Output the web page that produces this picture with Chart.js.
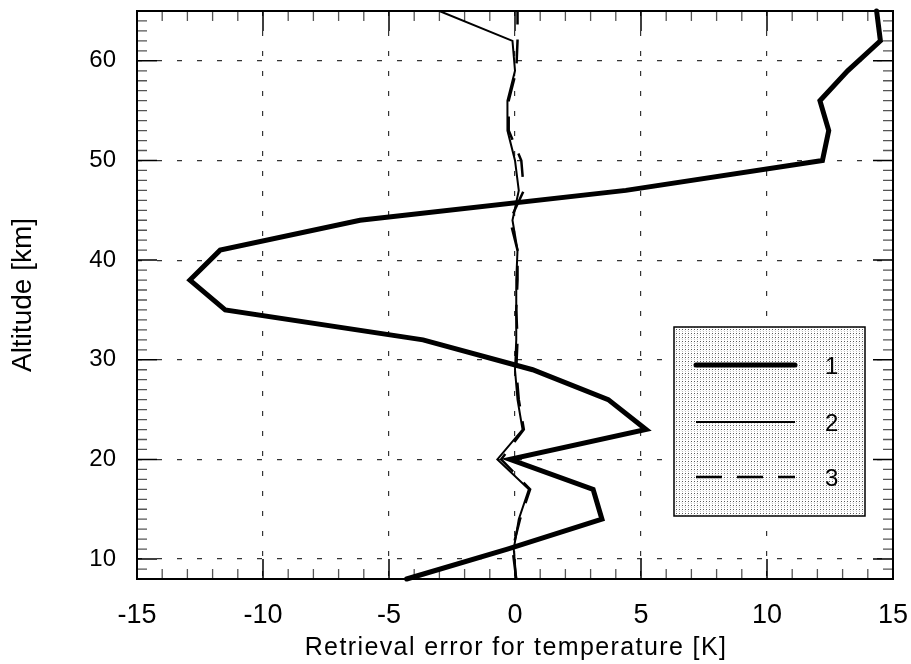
<!DOCTYPE html>
<html>
<head>
<meta charset="utf-8">
<script src="https://cdn.jsdelivr.net/npm/chart.js@4/dist/chart.umd.min.js"></script>
<style>
html,body{margin:0;padding:0;background:#fff;}
canvas{display:block;}
</style>
</head>
<body>
<canvas id="c" width="911" height="664"></canvas>
<script>
// ---- data ----
const altitudes = [8, 11, 14, 17, 20, 23, 26, 29, 32, 35, 38, 41, 44, 47, 50, 53, 56, 59, 62, 65];
const error1 = [-4.3, -0.3, 3.45, 3.1, -0.2, 5.2, 3.7, 0.7, -3.65, -11.5, -12.9, -11.7, -6.15, 4.4, 12.2, 12.45, 12.1, 13.2, 14.5, 14.35];
const error2 = [0.05, -0.05, 0.15, 0.55, -0.7, 0.3, 0.1, 0.0, 0.05, 0.05, 0.05, 0.1, -0.1, 0.15, 0.0, -0.3, -0.3, 0.0, -0.1, -3.0];
const error3 = [0.05, -0.1, 0.2, 0.6, -0.55, 0.35, 0.15, 0.05, 0.1, 0.05, 0.1, 0.1, -0.2, 0.35, 0.25, -0.25, -0.25, 0.05, 0.1, 0.1];
const seriesNames = ['1', '2', '3'];
const xTicks = [-15, -10, -5, 0, 5, 10, 15];
const yTicks = [10, 20, 30, 40, 50, 60];
const xTitle = 'Retrieval error for temperature [K]';
const yTitle = 'Altitude [km]';

const FONT = "'Liberation Sans', Arial, sans-serif";

function pts(vals){ return altitudes.map((a,i)=>({x: vals[i], y: a})); }

// stipple pattern for legend box
function makePattern(ctx){
  const pc = document.createElement('canvas');
  pc.width = 3; pc.height = 4;
  const p = pc.getContext('2d');
  p.fillStyle = '#ffffff'; p.fillRect(0,0,3,4);
  p.fillStyle = '#5a5a5a'; p.fillRect(1,1,1,1);
  p.fillStyle = '#c4c4c4'; p.fillRect(1,3,1,1);
  p.fillStyle = '#ececec'; p.fillRect(0,2,1,1);
  return ctx.createPattern(pc, 'repeat');
}

function noPad(s){ s.paddingTop = 0; s.paddingBottom = 0; s.paddingLeft = 0; s.paddingRight = 0; }

const framePlugin = {
  id: 'frame',
  beforeDatasetsDraw(chart){
    const {ctx, chartArea: a, scales: {x, y}} = chart;
    ctx.save();
    ctx.lineCap = 'butt';
    // minor / major inward ticks on all four sides
    for (let v = Math.ceil(x.min); v <= x.max; v++){
      const px = x.getPixelForValue(v);
      const major = v % 5 === 0;
      const len = major ? 20 : 10;
      ctx.strokeStyle = major ? '#000' : '#555';
      ctx.lineWidth = major ? 1.5 : 1.3;
      ctx.beginPath();
      ctx.moveTo(px, a.bottom); ctx.lineTo(px, a.bottom - len);
      ctx.moveTo(px, a.top); ctx.lineTo(px, a.top + len);
      ctx.stroke();
    }
    for (let v = Math.ceil(y.min); v <= y.max; v++){
      const py = y.getPixelForValue(v);
      const major = v % 10 === 0;
      const len = major ? 20 : 10;
      ctx.strokeStyle = major ? '#000' : '#555';
      ctx.lineWidth = major ? 1.5 : 1.3;
      ctx.beginPath();
      ctx.moveTo(a.left, py); ctx.lineTo(a.left + len, py);
      ctx.moveTo(a.right, py); ctx.lineTo(a.right - len, py);
      ctx.stroke();
    }
    ctx.restore();
  },
  afterDatasetsDraw(chart){
    const {ctx, chartArea: a} = chart;
    ctx.save();
    // frame
    ctx.strokeStyle = '#000';
    ctx.lineWidth = 2;
    ctx.strokeRect(a.left, a.top, a.right - a.left, a.bottom - a.top);

    // legend box
    const bx = 674, by = 327, bw = 191, bh = 189;
    ctx.fillStyle = makePattern(ctx);
    ctx.fillRect(bx, by, bw, bh);
    ctx.strokeStyle = '#000';
    ctx.lineWidth = 1.5;
    ctx.strokeRect(bx, by, bw, bh);
    const rows = [365, 422, 477];
    chart.data.datasets.forEach((ds, i) => {
      ctx.save();
      ctx.strokeStyle = ds.borderColor;
      ctx.lineWidth = ds.borderWidth;
      ctx.lineCap = i === 0 ? 'round' : 'butt';
      ctx.setLineDash(i === 2 ? [26, 15] : []);
      ctx.beginPath();
      ctx.moveTo(696, rows[i]); ctx.lineTo(795, rows[i]);
      ctx.stroke();
      ctx.restore();
      ctx.fillStyle = '#000';
      ctx.font = '24px ' + FONT;
      ctx.textAlign = 'left';
      ctx.textBaseline = 'middle';
      ctx.fillText(ds.label, 825, rows[i] + 2);
    });

    // x-axis title (spaced lettering)
    ctx.fillStyle = '#000';
    ctx.font = '25px ' + FONT;
    ctx.textAlign = 'center';
    ctx.textBaseline = 'alphabetic';
    if ('letterSpacing' in ctx) ctx.letterSpacing = '1.4px';
    ctx.fillText(xTitle, (a.left + a.right) / 2 + 1, 655);
    ctx.restore();
  }
};

new Chart(document.getElementById('c'), {
  type: 'scatter',
  data: {
    datasets: [
      { label: seriesNames[0], data: pts(error1), showLine: true, borderColor: '#000', backgroundColor: '#000',
        borderWidth: 5, pointRadius: 0, borderJoinStyle: 'miter', borderCapStyle: 'round', clip: false },
      { label: seriesNames[1], data: pts(error2), showLine: true, borderColor: '#000', backgroundColor: '#000',
        borderWidth: 2, pointRadius: 0, borderJoinStyle: 'miter' },
      { label: seriesNames[2], data: pts(error3), showLine: true, borderColor: '#000', backgroundColor: '#000',
        borderWidth: 2.5, pointRadius: 0, borderDash: [24, 15], borderJoinStyle: 'miter' }
    ]
  },
  options: {
    responsive: false,
    animation: false,
    devicePixelRatio: 1,
    layout: { padding: { top: 11, right: 18, left: 0, bottom: 0 } },
    plugins: { legend: { display: false }, tooltip: { enabled: false } },
    scales: {
      x: {
        type: 'linear', min: -15, max: 15,
        afterBuildTicks: s => { s.ticks = xTicks.map(v => ({ value: v })); },
        afterFit: s => { s.height = 85; noPad(s); },
        grid: {
          drawTicks: false, lineWidth: 1.2,
          color: c => (c.tick && (c.tick.value === -15 || c.tick.value === 15)) ? 'rgba(0,0,0,0)' : '#333',
          borderDash: [5, 15]
        },
        border: { display: false, dash: [5, 15] },
        ticks: { color: '#000', padding: 20, maxRotation: 0, autoSkip: false,
                 font: { family: FONT, size: 27 } }
      },
      y: {
        type: 'linear', min: 8, max: 65,
        afterBuildTicks: s => { s.ticks = yTicks.map(v => ({ value: v })); },
        afterFit: s => { s.width = 137; noPad(s); },
        grid: { drawTicks: false, lineWidth: 1.2, color: '#333', borderDash: [5, 15] },
        border: { display: false, dash: [5, 15] },
        ticks: { color: '#000', padding: 21, autoSkip: false,
                 font: { family: FONT, size: 24 } },
        title: { display: true, text: yTitle, color: '#000',
                 font: { family: FONT, size: 28 }, padding: { top: 6, bottom: 0 } }
      }
    }
  },
  plugins: [framePlugin]
});
</script>
</body>
</html>
